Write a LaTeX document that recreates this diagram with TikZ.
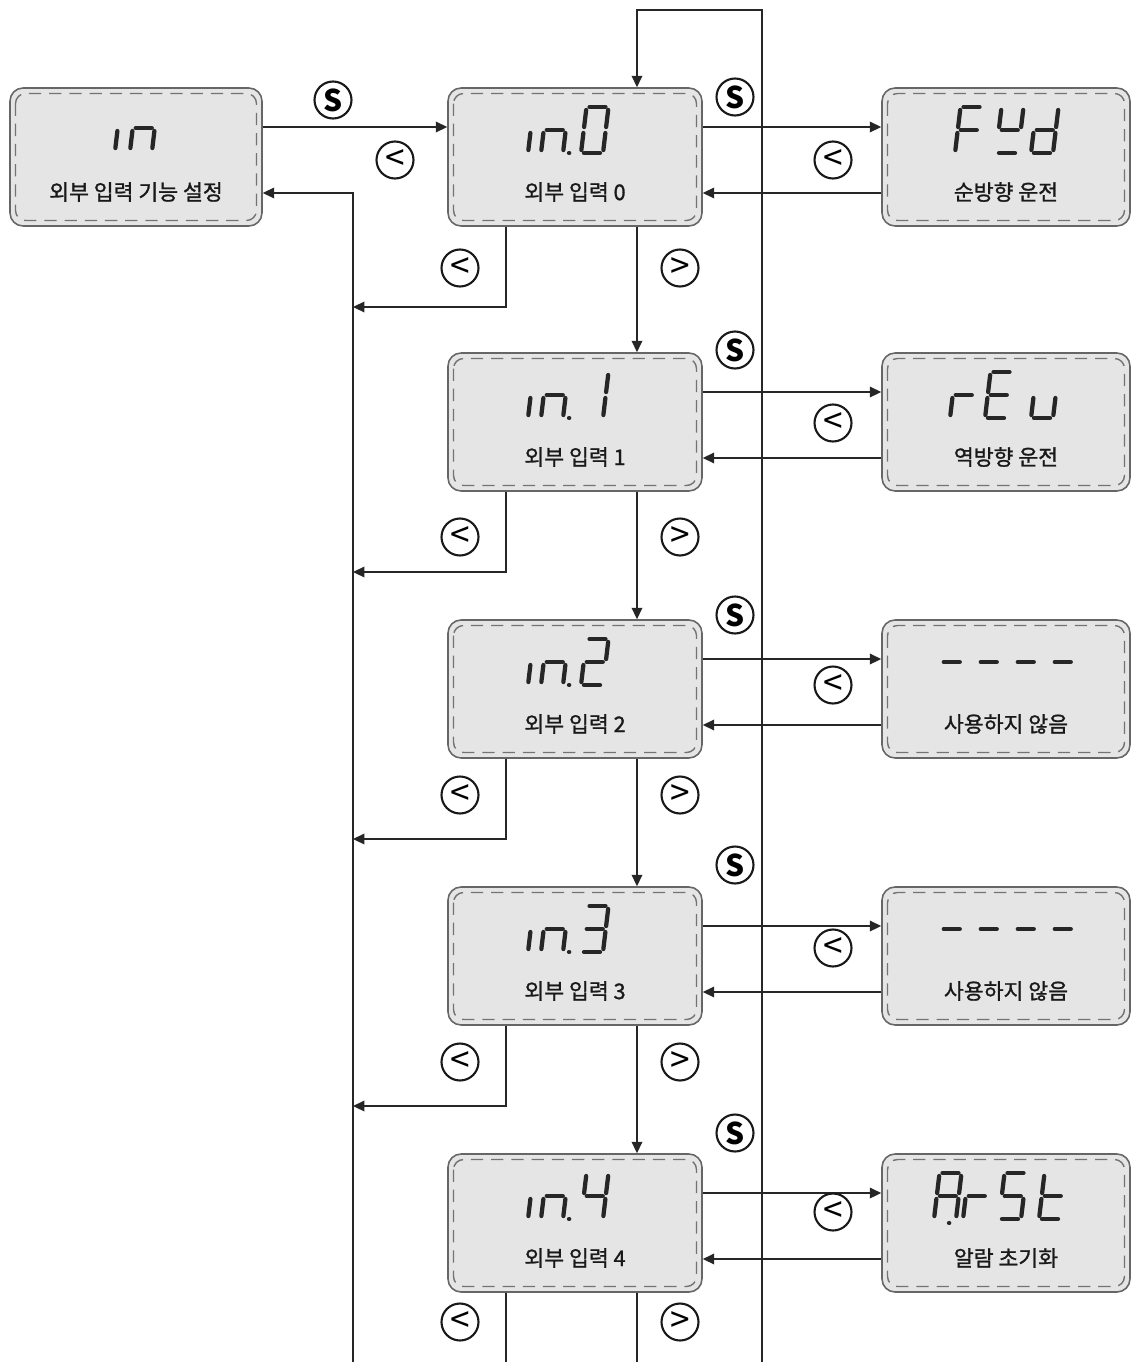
\documentclass[tikz,border=0pt]{standalone}
\usepackage{fontspec}
\setmainfont{Noto Sans CJK KR}
\newfontfamily\lblfont{Noto Sans CJK KR}[FakeBold=1.2]
\usetikzlibrary{arrows.meta}

% seven-segment digit: #1 bottom left corner, #2 list of lit segments
\newcommand{\segdigit}[2]{%
  \begin{scope}[shift={#1}, xslant=0.12, yscale=-1]
    \coordinate (sg-a-1) at (3,46);  \coordinate (sg-a-2) at (19,46);
    \coordinate (sg-b-1) at (22,43); \coordinate (sg-b-2) at (22,26);
    \coordinate (sg-c-1) at (22,20); \coordinate (sg-c-2) at (22,3);
    \coordinate (sg-d-1) at (3,0);   \coordinate (sg-d-2) at (19,0);
    \coordinate (sg-e-1) at (0,3);   \coordinate (sg-e-2) at (0,20);
    \coordinate (sg-f-1) at (0,26);  \coordinate (sg-f-2) at (0,43);
    \coordinate (sg-g-1) at (3,23);  \coordinate (sg-g-2) at (19,23);
    \coordinate (sg-p-1) at (28,0);  \coordinate (sg-p-2) at (28.2,0);
    \foreach \s in {#2} {\draw[segline] (sg-\s-1) -- (sg-\s-2);}
  \end{scope}}

\begin{document}
\begin{tikzpicture}[x=0.02cm, y=-0.02cm,
    panel/.style={draw=black!60, line width=0.9pt, fill=black!10,
      rounded corners=0.26cm, minimum width=5.08cm, minimum height=2.76cm,
      inner sep=0pt,
      path picture={\draw[black!55, line width=0.8pt, dash pattern=on 7pt off 4.5pt,
        rounded corners=0.2cm]
        ([shift={(0.11cm,-0.11cm)}]path picture bounding box.north west) rectangle
        ([shift={(-0.11cm,0.11cm)}]path picture bounding box.south east);}},
    lbl/.style={font=\lblfont\fontsize{12.3}{13}\selectfont, text=black!90, inner sep=0pt},
    btn/.style={circle, draw=black!90, line width=1.2pt, minimum size=0.74cm,
      inner sep=0pt, font=\bfseries\fontsize{17}{17}\selectfont},
    btnarrow/.style={btn, font=\fontsize{20}{20}\selectfont},
    flow/.style={draw=black!85, line width=1pt, -{Triangle[length=6.5pt, width=6pt]}},
    wire/.style={draw=black!85, line width=1pt},
    segline/.style={draw=black!85, line width=0.085cm, line cap=round}]

    \useasboundingbox (0,0) rectangle (1131,1362);

    % Function panel
    \node[panel, minimum width=5.04cm] (ls) at (136,157) {};
    \node[lbl] (lls) at (136,192) {외부 입력 기능 설정};

    % Input panels and their values
    \foreach \r/\yc/\txt in {0/157/순방향 운전, 1/422/역방향 운전,
        2/689/사용하지 않음, 3/956/사용하지 않음, 4/1223/알람 초기화} {
      \node[panel] (p\r) at (575,\yc) {};
      \node[lbl] (lp\r) at (575,\yc+35) {외부 입력 \r};
      \node[panel, minimum width=4.96cm] (q\r) at (1006,\yc) {};
      \node[lbl] (lq\r) at (1006,\yc+35) {\txt};
      \draw[flow] ([yshift=0.6cm]p\r.east) -- ([yshift=0.6cm]q\r.west);
      \draw[flow] ([yshift=-0.72cm]q\r.west) -- ([yshift=-0.72cm]p\r.east);
    }

    % Enter / back
    \draw[flow] ([yshift=0.6cm]ls.east) -- ([yshift=0.6cm]p0.west);
    \coordinate (busbot) at (353,1362);
    \draw[flow] (busbot) |- ([yshift=-0.72cm]ls.east);

    % Loop back to the first input
    \coordinate (loopbot) at (762,1362);
    \coordinate (looptop) at (762,10);
    \draw[flow] (loopbot) -- (looptop) -| ([xshift=1.24cm]p0.north);

    % Next input
    \foreach \r/\n in {0/1, 1/2, 2/3, 3/4}
      \draw[flow] ([xshift=1.24cm]p\r.south) -- ([xshift=1.24cm]p\n.north);

    % Back to the bus
    \foreach \r/\yc in {0/157, 1/422, 2/689, 3/956} {
      \coordinate (fb\r) at (353,\yc+150);
      \draw[flow] ([xshift=-1.38cm]p\r.south) |- (fb\r);
    }
    \coordinate (end4l) at (506,1362);
    \coordinate (end4r) at (637,1362);
    \draw[wire] ([xshift=-1.38cm]p4.south) -- (end4l);
    \draw[wire] ([xshift=1.24cm]p4.south) -- (end4r);

    % Keys
    \node[btn] (sin) at (333,100) {S};
    \node[btnarrow] (bin) at (395,160) {\textless};
    \foreach \r/\ys/\ym/\yb in {0/97/160/268, 1/350/423/537, 2/615/685/795,
        3/865/948/1062, 4/1133/1212/1322} {
      \node[btn] (s\r) at (735,\ys) {S};
      \node[btnarrow] (bq\r) at (833,\ym) {\textless};
      \node[btnarrow] (bl\r) at (460,\yb) {\textless};
      \node[btnarrow] (br\r) at (680,\yb) {\textgreater};
    }

    % Displays
    \segdigit{(115,151)}{e}
    \segdigit{(130,151)}{c,e,g}

    \segdigit{(528,153)}{e}
    \segdigit{(541,153)}{c,e,g,p}
    \segdigit{(581,153)}{a,b,c,d,e,f}
    \segdigit{(528,418)}{e}
    \segdigit{(541,418)}{c,e,g,p}
    \segdigit{(581,418)}{b,c}
    \segdigit{(528,685)}{e}
    \segdigit{(541,685)}{c,e,g,p}
    \segdigit{(581,685)}{a,b,d,e,g}
    \segdigit{(528,952)}{e}
    \segdigit{(541,952)}{c,e,g,p}
    \segdigit{(581,952)}{a,b,c,d,g}
    \segdigit{(528,1219)}{e}
    \segdigit{(541,1219)}{c,e,g,p}
    \segdigit{(581,1219)}{b,c,f,g}

    \segdigit{(955,153)}{a,e,f,g}
    \segdigit{(996,153)}{b,d,f,g}
    \segdigit{(1031,153)}{b,c,d,e,g}
    \segdigit{(950,418)}{e,g}
    \segdigit{(985,418)}{a,d,e,f,g}
    \segdigit{(1031,418)}{c,d,e}
    \foreach \xc in {938, 975, 1012, 1049} {
      \segdigit{(\xc,685)}{g}
      \segdigit{(\xc,952)}{g}
    }
    \segdigit{(934,1219)}{a,b,c,e,f,g}
    \segdigit{(921,1223)}{p}
    \segdigit{(963,1219)}{e,g}
    \segdigit{(999,1219)}{a,c,d,f,g}
    \segdigit{(1039,1219)}{d,e,f,g}

\end{tikzpicture}
\end{document}
